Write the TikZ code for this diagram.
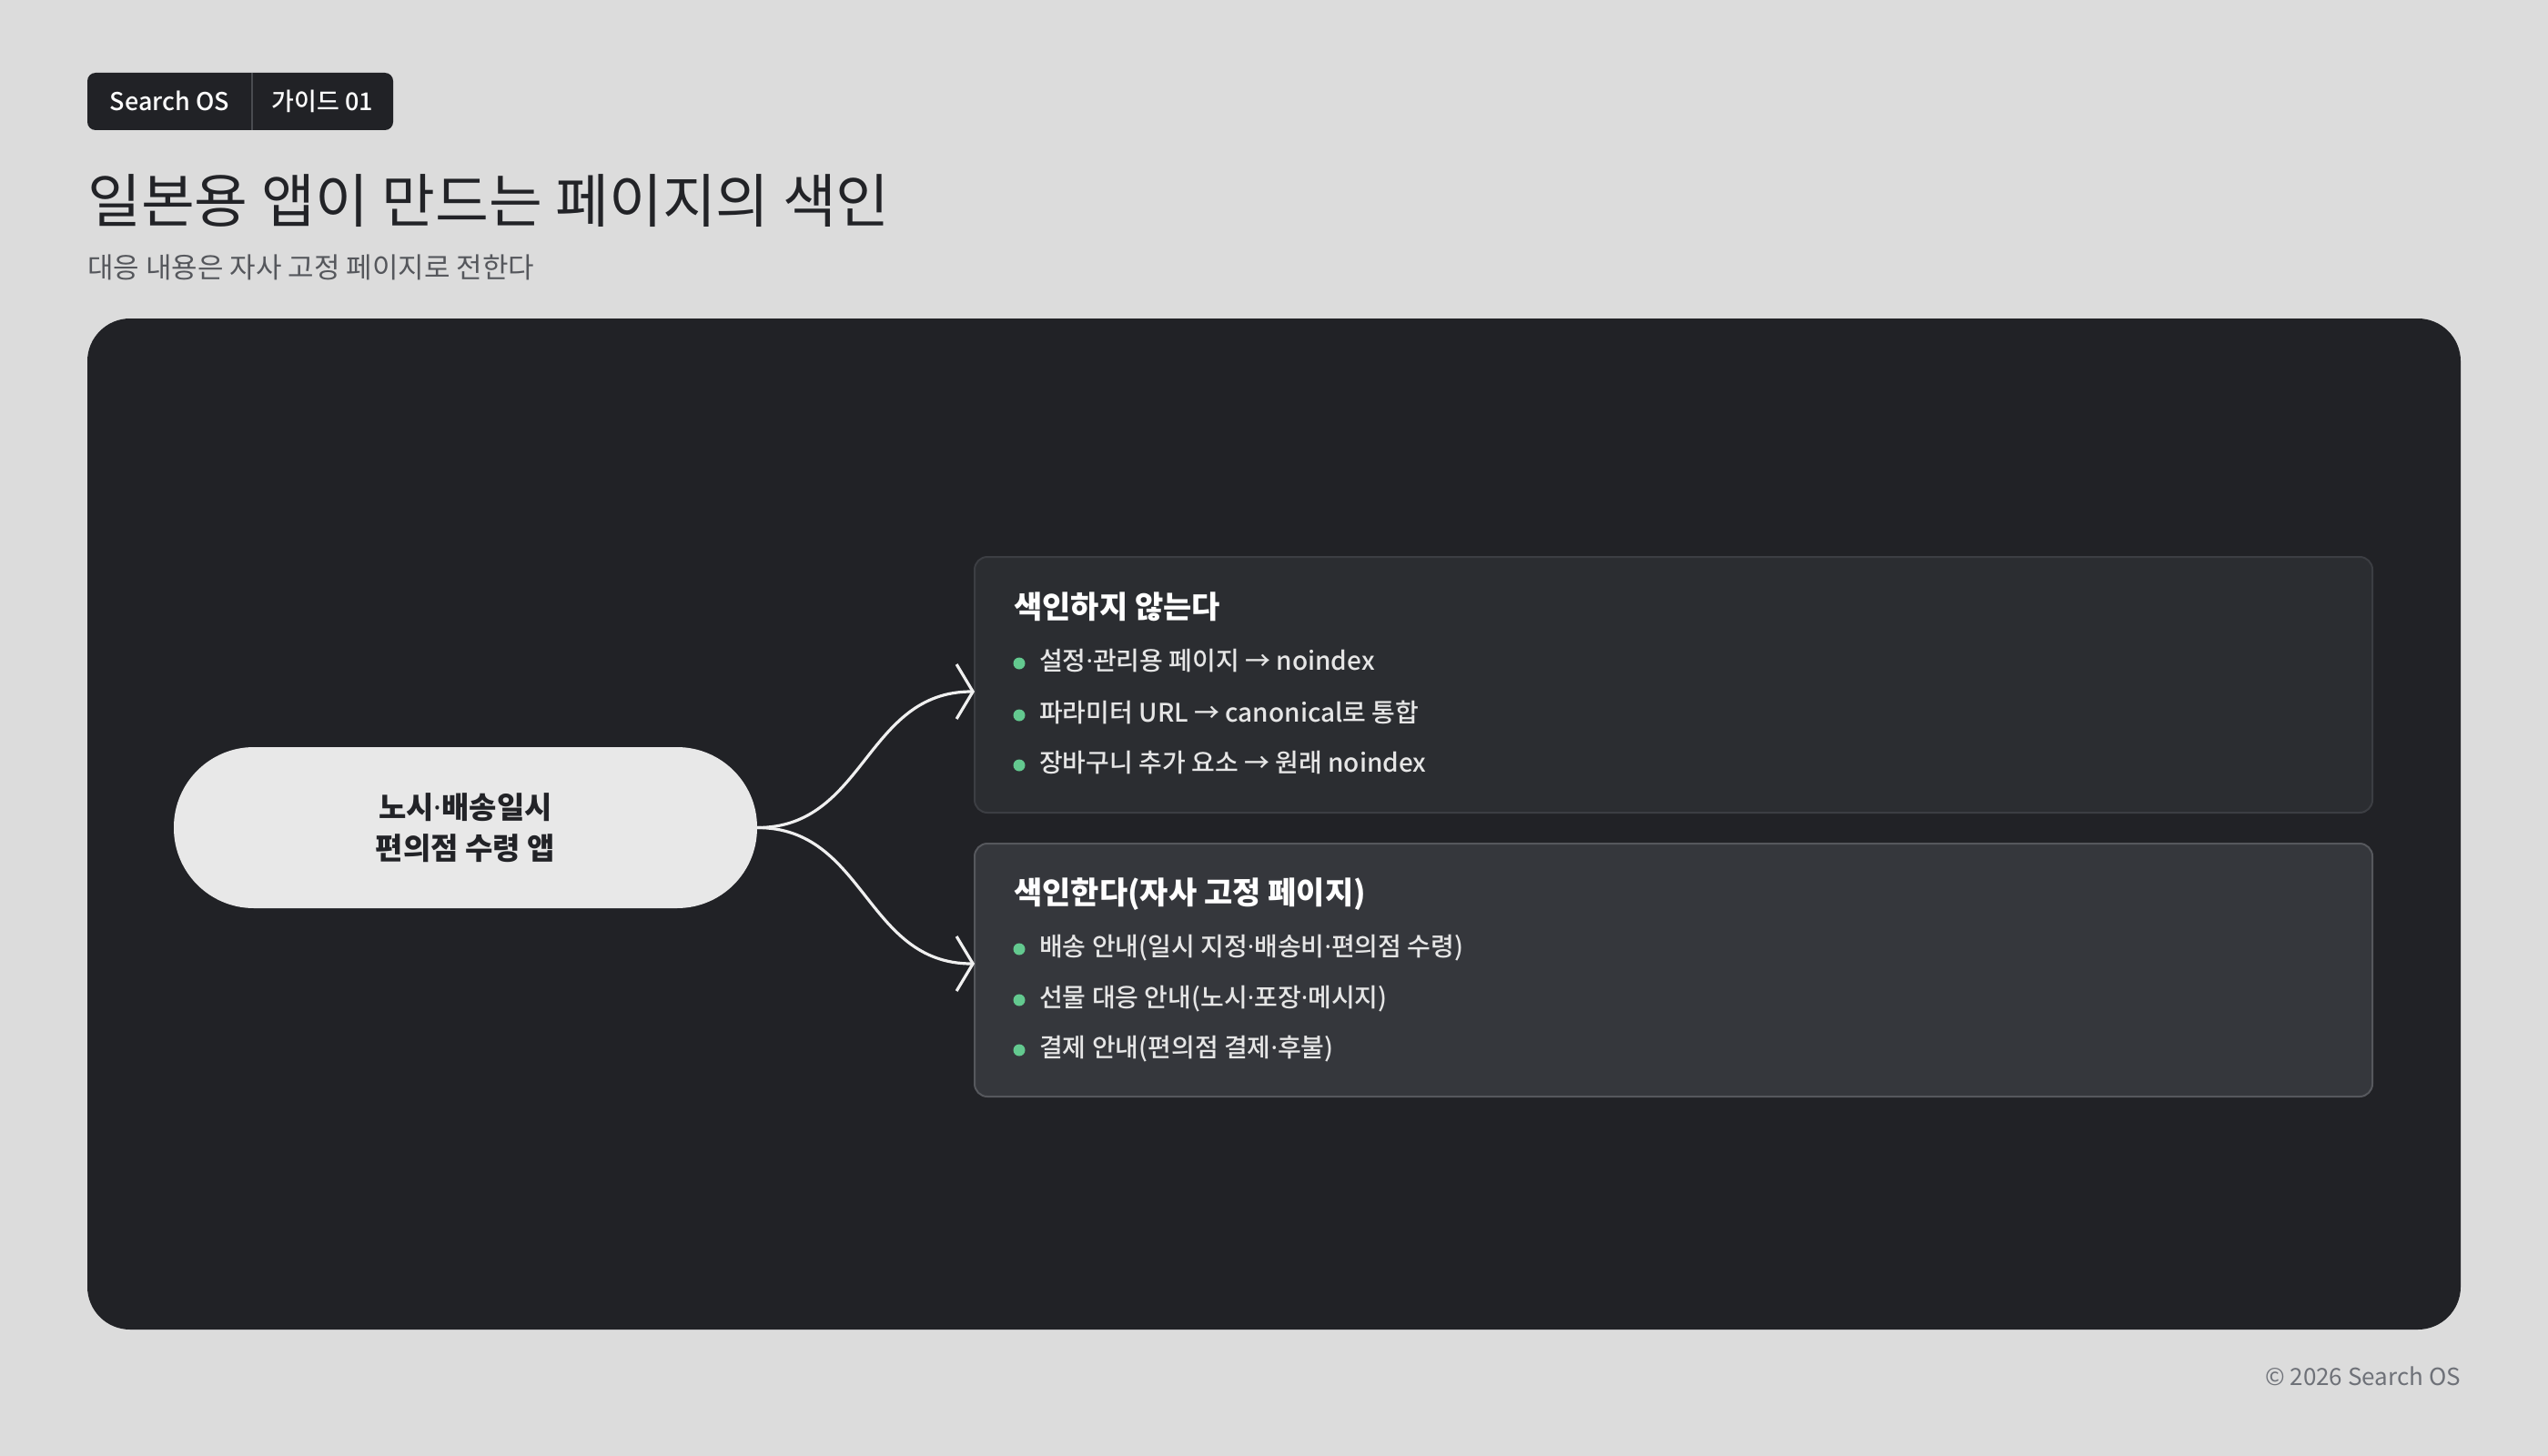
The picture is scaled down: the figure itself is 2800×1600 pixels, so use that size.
\documentclass[tikz,border=0pt]{standalone}
\usepackage{fontspec}
\usetikzlibrary{arrows.meta}
\setmainfont{Noto Sans CJK KR}
\newfontfamily\krmed{Noto Sans CJK KR}[UprightFont={* Medium}]
\newfontfamily\latdot{Noto Sans}
\newcommand{\mdot}{{\latdot ·}}
\definecolor{bgc}{HTML}{DCDCDC}
\definecolor{panelc}{HTML}{212226}
\definecolor{inkc}{HTML}{222327}
\definecolor{subc}{HTML}{55575C}
\definecolor{pillc}{HTML}{E8E8E8}
\definecolor{boxa}{HTML}{2B2D31}
\definecolor{boxaline}{HTML}{3C3E43}
\definecolor{boxb}{HTML}{35373C}
\definecolor{boxbline}{HTML}{56585D}
\definecolor{dotc}{HTML}{63C98F}
\definecolor{itemc}{HTML}{E6E6E6}
\definecolor{linec}{HTML}{F0F0F0}
\definecolor{footc}{HTML}{6E7178}
\definecolor{divc}{HTML}{4A4C51}
\tikzset{
  pagetitle/.style={anchor=base west, inner sep=0pt, text=inkc, font=\fontsize{64}{70}\selectfont},
  pagesub/.style={anchor=base west, inner sep=0pt, text=subc, font=\fontsize{31}{36}\selectfont},
  badgetxt/.style={anchor=base, inner sep=0pt, text=white, font=\krmed\fontsize{27}{32}\selectfont},
  pill/.style={fill=pillc, rounded corners=88pt, minimum width=641pt, minimum height=177pt, inner sep=0pt, align=center, text=inkc, font=\fontsize{33}{45}\selectfont\bfseries},
  boxone/.style={fill=boxa, draw=boxaline, line width=2pt, rounded corners=14pt, minimum width=1536pt, minimum height=281pt, inner sep=0pt},
  boxtwo/.style={fill=boxb, draw=boxbline, line width=2pt, rounded corners=14pt, minimum width=1536pt, minimum height=278pt, inner sep=0pt},
  boxhead/.style={anchor=base west, inner sep=0pt, text=white, font=\fontsize{34}{40}\selectfont\bfseries},
  itemtxt/.style={anchor=base west, inner sep=0pt, text=itemc, font=\krmed\fontsize{28}{32}\selectfont},
  bullet/.style={circle, fill=dotc, inner sep=0pt, minimum size=13pt},
  conn/.style={draw=linec, line width=3.2pt, -{Straight Barb[length=18pt,width=60pt]}},
  foot/.style={anchor=base east, inner sep=0pt, text=footc, font=\fontsize{26}{30}\selectfont},
}
\begin{document}
\begin{tikzpicture}[x=1pt,y=-1pt]
\useasboundingbox (0,0) rectangle (2800,1600);
\fill[bgc] (0,0) rectangle (2800,1600);
% badge
\fill[panelc, rounded corners=9pt] (96,80) rectangle (432,143);
\draw[divc, line width=1.5pt] (277,80) -- (277,143);
\node[badgetxt] (b1) at (186.5,122) {Search OS};
\node[badgetxt] (b2) at (354.5,122) {가이드 01};
% titles
\node[pagetitle] (title) at (96,244) {일본용 앱이 만드는 페이지의 색인};
\node[pagesub] (sub) at (96,305) {대응 내용은 자사 고정 페이지로 전한다};
% panel
\fill[panelc, rounded corners=47pt] (96,350) rectangle (2704,1461);
% pill
\node[pill] (app) at (511.5,909.5) {노시\mdot 배송일시\\편의점 수령 앱};
% boxes
\node[boxone] (box1) at (1839,752.5) {};
\node[boxtwo] (box2) at (1839,1066) {};
\coordinate (t1) at (1071,760);
\coordinate (t2) at (1071,1059);
\draw[conn] (app.east) .. controls (951,909.5) and (951,760) .. (t1);
\draw[conn] (app.east) .. controls (951,909.5) and (951,1059) .. (t2);
% box1 content
\node[boxhead] (h1) at (1114,679) {색인하지 않는다};
\node[bullet] (d11) at (1120,729) {};
\node[itemtxt] (i11) at (1142,736) {설정\mdot 관리용 페이지 → noindex};
\node[bullet] (d12) at (1120,786) {};
\node[itemtxt] (i12) at (1142,793) {파라미터 URL → canonical로 통합};
\node[bullet] (d13) at (1120,841) {};
\node[itemtxt] (i13) at (1142,848) {장바구니 추가 요소 → 원래 noindex};
% box2 content
\node[boxhead] (h2) at (1114,993) {색인한다(자사 고정 페이지)};
\node[bullet] (d21) at (1120,1043) {};
\node[itemtxt] (i21) at (1142,1050) {배송 안내(일시 지정\mdot 배송비\mdot 편의점 수령)};
\node[bullet] (d22) at (1120,1099) {};
\node[itemtxt] (i22) at (1142,1106) {선물 대응 안내(노시\mdot 포장\mdot 메시지)};
\node[bullet] (d23) at (1120,1154) {};
\node[itemtxt] (i23) at (1142,1161) {결제 안내(편의점 결제\mdot 후불)};
% footer
\node[foot] (ft) at (2704,1522) {© 2026 Search OS};
\end{tikzpicture}
\end{document}
